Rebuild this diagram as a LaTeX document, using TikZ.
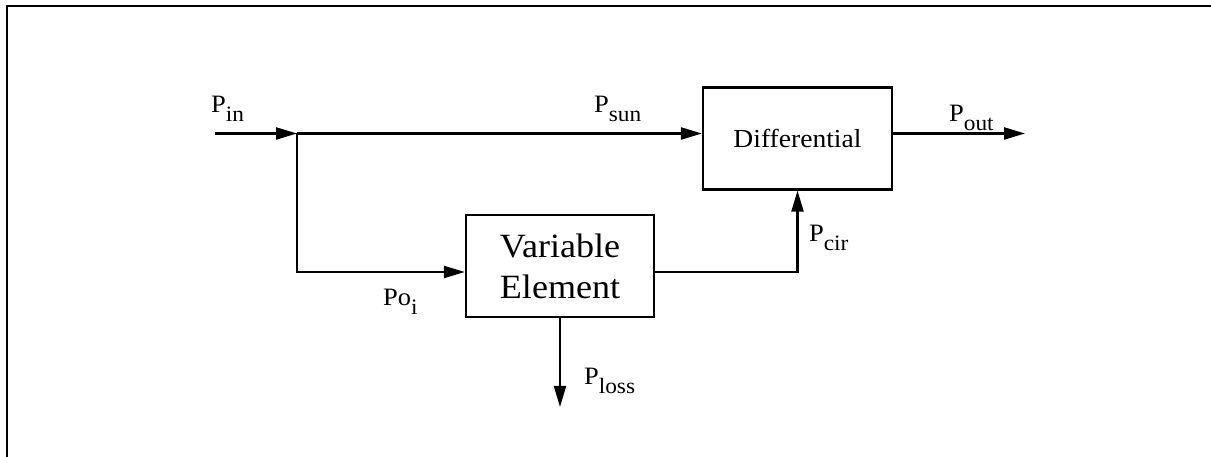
\documentclass[tikz,border=0pt]{standalone}
\usepackage{fontspec}
\setmainfont[FakeStretch=1.06]{Liberation Serif}
\usetikzlibrary{positioning,arrows.meta}
\newcommand{\sublbl}[2]{#1\raisebox{-9bp}{\fontsize{22bp}{22bp}\selectfont #2}}

\begin{document}
\begin{tikzpicture}[x=1bp, y=-1bp, line width=2.2bp,
    >={Triangle[length=21bp,width=12bp]},
    block/.style={rectangle, draw, inner sep=0pt},
    lbl/.style={anchor=base west, inner sep=0pt, font=\fontsize{25bp}{25bp}\selectfont}]
        \useasboundingbox (0,0) rectangle (1211,457);
        \draw[line width=2.8bp] (7,457) -- (7,6) -- (1211,6);

        \node[block, minimum width=189bp, minimum height=102bp, font=\fontsize{26bp}{30bp}\selectfont] (diff) at (797.5,138.5) {Differential};
        \node[block, minimum width=188bp, minimum height=102bp, align=center, font=\fontsize{34bp}{41bp}\selectfont] (varel) at (560,266) {Variable\\Element};

        \coordinate (inp) at (215,133.5);
        \coordinate (split) at (297,133.5);
        \coordinate (outp) at (1025,133.5);
        \coordinate (bend) at (797.5,272);
        \coordinate (loss) at (560,407);

        \node[lbl] (pinlbl) at (210,113) {\sublbl{P}{in}};
        \node[lbl] (psunlbl) at (593,113) {\sublbl{P}{sun}};
        \node[lbl] (poutlbl) at (948,122) {\sublbl{P}{out}};
        \node[lbl] (pcirlbl) at (808,242) {\sublbl{P}{cir}};
        \node[lbl] (poilbl) at (382,306) {\sublbl{Po}{i}};
        \node[lbl] (plosslbl) at (583,385) {\sublbl{P}{loss}};

        \draw (inp) edge[->] (split);
        \draw (split) edge[->] (diff.west |- split);
        \draw (diff.east |- outp) edge[->] (outp);
        \draw[->] (split) |- (varel.west |- bend);
        \draw[->] (varel.east |- bend) -| (diff.south);
        \draw (varel.south) edge[->] (loss);
      \end{tikzpicture}
\end{document}
